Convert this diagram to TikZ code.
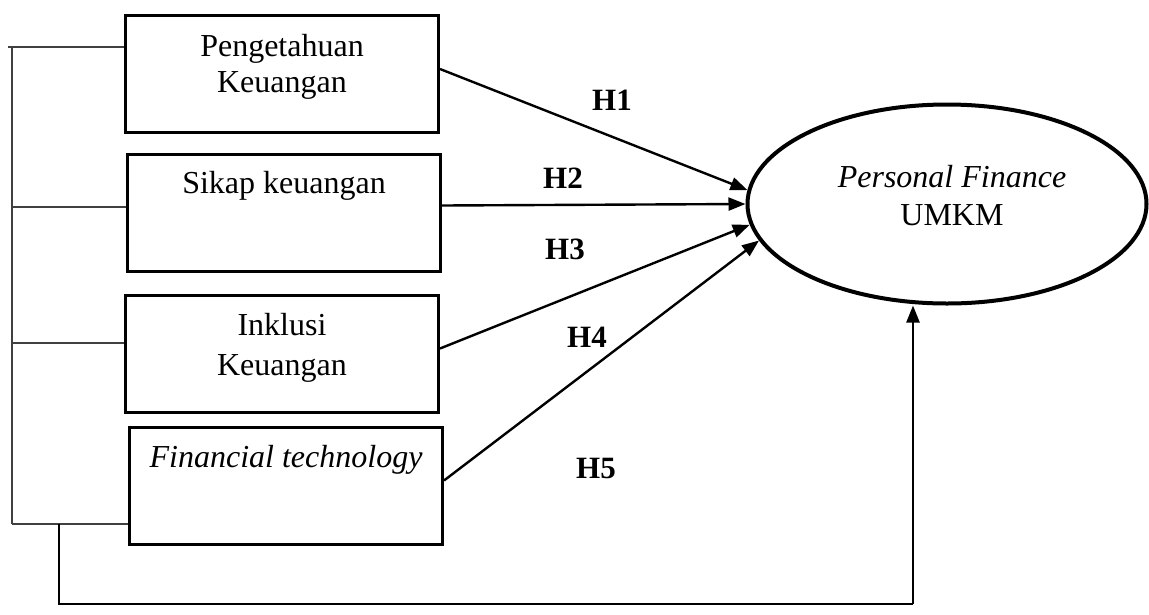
\documentclass[tikz,border=0pt]{standalone}
\usepackage{fontspec}
\setmainfont{Liberation Serif}
\usetikzlibrary{shapes.geometric,arrows.meta}
\begin{document}
\begin{tikzpicture}[x=1pt,y=-1pt,
  box/.style={draw,line width=3pt,minimum width=313pt,minimum height=117pt,inner sep=0pt},
  txt/.style={font=\fontsize{32}{36}\selectfont,inner sep=0pt,anchor=base},
  hyp/.style={font=\fontsize{31}{36}\selectfont\bfseries,inner sep=0pt,anchor=base},
  arr/.style={line width=2.4pt,-{Triangle[length=17pt,width=13pt]}},
  brk/.style={line width=1.2pt,black!75}]
\useasboundingbox (0,0) rectangle (1149,614);
% boxes
\node[box] (b1) at (282,74) {};
\node[box] (b2) at (284,212.5) {};
\node[box] (b3) at (282,353.5) {};
\node[box] (b4) at (286,485.5) {};
% box texts
\node[txt] (t1a) at (282,56) {Pengetahuan};
\node[txt] (t1b) at (282,92) {Keuangan};
\node[txt] (t2) at (284,193) {Sikap keuangan};
\node[txt] (t3a) at (282,335) {Inklusi};
\node[txt] (t3b) at (282,375) {Keuangan};
\node[txt] (t4) at (286,467) {\itshape Financial technology};
% ellipse
\node[ellipse,draw,line width=4pt,minimum width=399pt,minimum height=199pt,inner sep=0pt] (ell) at (947,204) {};
\node[txt] (e1) at (952,187) {\itshape Personal Finance};
\node[txt] (e2) at (952,225) {UMKM};
% hypothesis labels
\node[hyp] (h1) at (612,110) {H1};
\node[hyp] (h2) at (563,188) {H2};
\node[hyp] (h3) at (565,259) {H3};
\node[hyp] (h4) at (587,347) {H4};
\node[hyp] (h5) at (596,478) {H5};
% arrows
\draw[arr] ([yshift=5pt]b1.east) -- (ell.176);
\draw[arr] ([yshift=7pt]b2.east) -- (ell.180);
\draw[arr] ([yshift=5pt]b3.east) -- (ell.186);
\draw[arr] ([yshift=5pt]b4.east) -- (ell.191);
% left bracket
\coordinate (k1) at (12,47);
\coordinate (k2) at (12,207);
\coordinate (k3) at (12,343);
\coordinate (k4) at (12,524);
\draw[brk] (8,47) -- (b1.west |- k1);
\draw[brk] (k2) -- (b2.west |- k2);
\draw[brk] (k3) -- (b3.west |- k3);
\draw[brk] (k4) -- (b4.west |- k4);
\draw[brk] (k1) -- (k4);
% bottom connector
\coordinate (j) at (59,524);
\coordinate (c1) at (59,604);
\coordinate (c2) at (913,604);
\draw[line width=2.2pt] (j) -- (c1) -- (c2);
\draw[arr] (c2) -- (c2 |- ell.south);
\end{tikzpicture}
\end{document}
